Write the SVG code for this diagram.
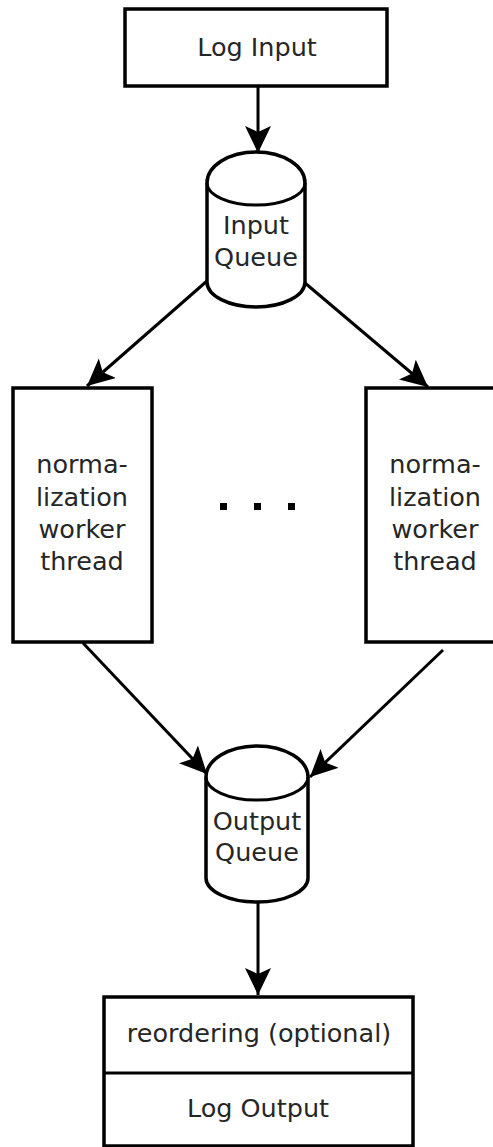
<svg xmlns="http://www.w3.org/2000/svg" width="493" height="1147" viewBox="0 0 493 1147">
  <style>
    .box { fill: #ffffff; stroke: #000000; stroke-width: 3.5; }
    .queue { fill: #ffffff; stroke: #000000; stroke-width: 3.5; stroke-linejoin: round; }
    .edge { fill: none; stroke: #000000; stroke-width: 3; }
    .label { font-family: "DejaVu Sans", "Liberation Sans", sans-serif; font-size: 25.5px; fill: #262626; text-anchor: middle; }
  </style>
  <defs>
    <marker id="arrow" markerUnits="userSpaceOnUse" markerWidth="32" markerHeight="32" refX="27" refY="13" orient="auto">
      <path d="M27,13 L0,0 L6,13 L0,26 Z" fill="#000000"/>
    </marker>
  </defs>

  <rect width="493" height="1147" fill="#ffffff"/>

  <!-- connectors -->
  <g id="connectors">
    <line class="edge" x1="258" y1="86" x2="258" y2="153" marker-end="url(#arrow)"/>
    <line class="edge" x1="207" y1="281" x2="87" y2="386" marker-end="url(#arrow)"/>
    <line class="edge" x1="305" y1="283" x2="428" y2="387" marker-end="url(#arrow)"/>
    <line class="edge" x1="83" y1="643" x2="207" y2="774" marker-end="url(#arrow)"/>
    <line class="edge" x1="443" y1="650" x2="310" y2="777" marker-end="url(#arrow)"/>
    <line class="edge" x1="258" y1="902" x2="258" y2="995" marker-end="url(#arrow)"/>
  </g>

  <!-- source -->
  <g id="log-input">
    <rect class="box" x="125" y="9" width="262" height="77"/>
    <text class="label" x="257" y="56">Log Input</text>
  </g>

  <!-- input queue -->
  <g id="input-queue">
    <path class="queue" d="M207,183 A49,31 0 0 1 305,183 L305,282 A49,25 0 0 1 207,282 Z"/>
    <path class="edge" stroke-width="3.5" d="M207,183 A49,22 0 0 0 305,183"/>
    <text class="label" x="256" y="234">Input</text>
    <text class="label" x="256" y="266">Queue</text>
  </g>

  <!-- worker threads -->
  <g id="worker-left">
    <rect class="box" x="13" y="388" width="139" height="254"/>
    <text class="label" x="82" y="473">norma-</text>
    <text class="label" x="82" y="506">lization</text>
    <text class="label" x="82" y="538">worker</text>
    <text class="label" x="82" y="570">thread</text>
  </g>

  <g id="ellipsis">
    <rect x="220" y="503" width="7" height="7" fill="#000000"/>
    <rect x="254" y="503" width="7" height="7" fill="#000000"/>
    <rect x="288" y="503" width="7" height="7" fill="#000000"/>
  </g>

  <g id="worker-right">
    <rect class="box" x="366" y="388" width="139" height="254"/>
    <text class="label" x="435" y="473">norma-</text>
    <text class="label" x="435" y="506">lization</text>
    <text class="label" x="435" y="538">worker</text>
    <text class="label" x="435" y="570">thread</text>
  </g>

  <!-- output queue -->
  <g id="output-queue">
    <path class="queue" d="M206,777 A51,31 0 0 1 308,777 L308,878 A51,24 0 0 1 206,878 Z"/>
    <path class="edge" stroke-width="3.5" d="M206,777 A51,23 0 0 0 308,777"/>
    <text class="label" x="257" y="830">Output</text>
    <text class="label" x="257" y="861">Queue</text>
  </g>

  <!-- sink -->
  <g id="log-output">
    <rect class="box" x="104" y="997" width="309" height="149"/>
    <line class="edge" stroke-width="3.5" x1="104" y1="1073" x2="413" y2="1073"/>
    <text class="label" x="259" y="1042">reordering (optional)</text>
    <text class="label" x="258" y="1117">Log Output</text>
  </g>
</svg>
